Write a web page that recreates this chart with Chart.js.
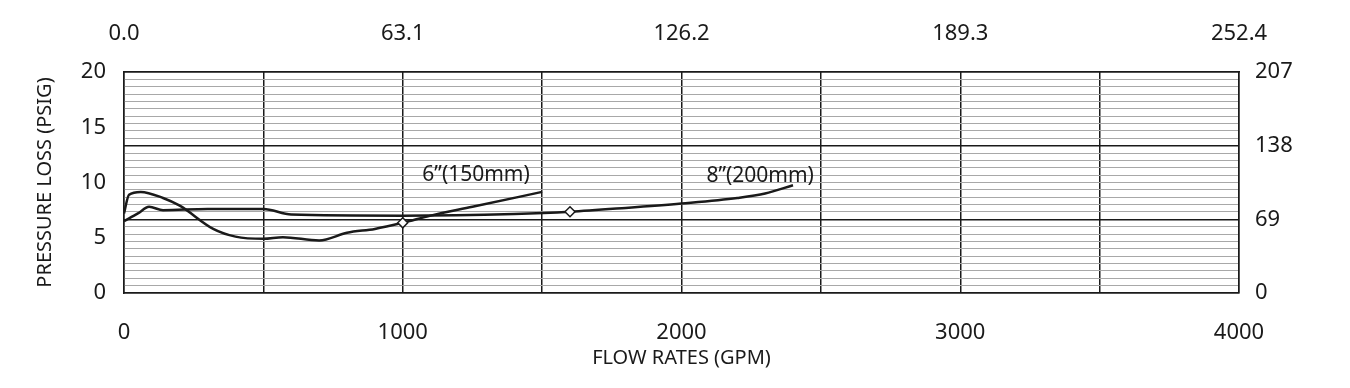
<!DOCTYPE html>
<html lang="en">
<head>
    <meta charset="UTF-8">
    <title>Pressure Loss vs Flow Rate</title>
    <script src="https://cdn.jsdelivr.net/npm/chart.js"></script>
    <style>
        body { margin: 0; background: #fff; }
        #wrap { width: 1350px; height: 388px; position: relative; }
    </style>
</head>
<body>
<div id="wrap"><canvas id="lossChart"></canvas></div>

<script>
    // 6" (150mm) curve
    const flow150 = [0, 18, 60, 140, 200, 320, 400, 500, 570, 700, 800, 900, 1000, 1100, 1250, 1500];
    const loss150 = [7.2, 8.9, 9.15, 8.6, 7.9, 5.8, 5.1, 4.9, 5.05, 4.75, 5.45, 5.8, 6.35, 7.0, 7.8, 9.15];
    // 8" (200mm) curve
    const flow200 = [0, 50, 90, 140, 300, 500, 600, 1000, 1400, 1600, 1800, 2000, 2200, 2300, 2400];
    const loss200 = [6.5, 7.2, 7.8, 7.5, 7.6, 7.6, 7.1, 7.0, 7.15, 7.35, 7.7, 8.1, 8.6, 9.0, 9.75];
    // marked points
    const marker150 = 1000;
    const marker200 = 1600;

    const gpmLabels = ['0', '1000', '2000', '3000', '4000'];
    const lpsLabels = ['0.0', '63.1', '126.2', '189.3', '252.4'];
    const psiTicks = [0, 5, 10, 15, 20];
    const kpaLabels = ['0', '69', '138', '207'];

    const curveLabels = [
        { text: '6\u201D(150mm)', x: 1263, y: 10.7 },
        { text: '8\u201D(200mm)', x: 2282, y: 10.6 }
    ];

    const ink = '#1a1a1a';
    const fontFamily = '"Noto Sans", Lato, sans-serif';

    function toPoints(xs, ys) {
        return xs.map((x, i) => ({ x: x, y: ys[i] }));
    }

    const curveText = {
        id: 'curveText',
        afterDatasetsDraw(chart) {
            const ctx = chart.ctx;
            const xs = chart.scales.x, ys = chart.scales.y;
            ctx.save();
            ctx.font = '21px ' + fontFamily;
            ctx.fillStyle = ink;
            ctx.textAlign = 'center';
            ctx.textBaseline = 'middle';
            curveLabels.forEach(l => {
                ctx.fillText(l.text, xs.getPixelForValue(l.x), ys.getPixelForValue(l.y));
            });
            ctx.restore();
        }
    };

    function markerRadius(markX) {
        return c => (c.raw && c.raw.x === markX ? 5 : 0);
    }

    new Chart(document.getElementById('lossChart').getContext('2d'), {
        type: 'line',
        data: {
            datasets: [
                {
                    label: '6"(150mm)',
                    data: toPoints(flow150, loss150),
                    borderColor: ink,
                    borderWidth: 2.5,
                    tension: 0.35,
                    cubicInterpolationMode: 'monotone',
                    pointStyle: 'rectRot',
                    pointRadius: markerRadius(marker150),
                    pointBackgroundColor: '#fff',
                    pointBorderColor: ink,
                    pointBorderWidth: 1.5,
                    yAxisID: 'y'
                },
                {
                    label: '8"(200mm)',
                    data: toPoints(flow200, loss200),
                    borderColor: ink,
                    borderWidth: 2.5,
                    tension: 0.35,
                    cubicInterpolationMode: 'monotone',
                    pointStyle: 'rectRot',
                    pointRadius: markerRadius(marker200),
                    pointBackgroundColor: '#fff',
                    pointBorderColor: ink,
                    pointBorderWidth: 1.5,
                    yAxisID: 'y'
                }
            ]
        },
        options: {
            responsive: true,
            maintainAspectRatio: false,
            animation: false,
            layout: { padding: 0 },
            plugins: { legend: { display: false }, tooltip: { enabled: false } },
            scales: {
                x: {
                    type: 'linear',
                    position: 'bottom',
                    min: 0, max: 4000,
                    afterBuildTicks: s => { s.ticks = []; for (let v = 0; v <= 4000; v += 500) s.ticks.push({ value: v }); },
                    afterFit: s => { s.height = 95; },
                    ticks: {
                        autoSkip: false,
                        maxRotation: 0,
                        padding: 27,
                        color: ink,
                        font: { family: fontFamily, size: 22 },
                        callback: (v, i) => (i % 2 === 0 ? gpmLabels[i / 2] : '')
                    },
                    grid: { color: ink, lineWidth: 1.5, drawTicks: false },
                    border: { display: true, color: ink, width: 1.5 },
                    title: {
                        display: true,
                        text: 'FLOW RATES (GPM)',
                        color: ink,
                        font: { family: fontFamily, size: 20 },
                        padding: { top: 0, bottom: 18 }
                    }
                },
                x2: {
                    type: 'linear',
                    position: 'top',
                    min: 0, max: 4000,
                    afterBuildTicks: s => { s.ticks = []; for (let v = 0; v <= 4000; v += 1000) s.ticks.push({ value: v }); },
                    afterFit: s => { s.height = 72; },
                    ticks: {
                        autoSkip: false,
                        maxRotation: 0,
                        padding: 25,
                        color: ink,
                        font: { family: fontFamily, size: 22 },
                        callback: (v, i) => lpsLabels[i]
                    },
                    grid: { display: false, drawTicks: false },
                    border: { display: true, color: ink, width: 1.5 }
                },
                y: {
                    type: 'linear',
                    position: 'left',
                    min: 0, max: 20,
                    afterBuildTicks: s => { s.ticks = psiTicks.map(v => ({ value: v })); },
                    afterFit: s => { s.width = 124; },
                    ticks: {
                        padding: 18,
                        color: ink,
                        font: { family: fontFamily, size: 22 }
                    },
                    grid: { display: false, drawTicks: false },
                    border: { display: true, color: ink, width: 1.5 }
                    ,
                    title: {
                        display: true,
                        text: 'PRESSURE LOSS (PSIG)',
                        color: ink,
                        font: { family: fontFamily, size: 20 },
                        padding: { top: 33, bottom: 0 }
                    }
                },
                y2: {
                    type: 'linear',
                    position: 'right',
                    min: 0, max: 207,
                    afterBuildTicks: s => { s.ticks = []; for (let i = 0; i <= 30; i++) s.ticks.push({ value: 207 * i / 30 }); },
                    afterFit: s => { s.width = 111; },
                    ticks: {
                        autoSkip: false,
                        padding: 16,
                        color: ink,
                        font: { family: fontFamily, size: 22 },
                        callback: (v, i) => (i % 10 === 0 ? kpaLabels[i / 10] : '')
                    },
                    grid: {
                        drawTicks: false,
                        color: c => (c.index % 10 === 0 ? ink : '#a8a8a8'),
                        lineWidth: c => (c.index % 10 === 0 ? 1.5 : 1)
                    },
                    border: { display: true, color: ink, width: 1.5 }
                }
            }
        },
        plugins: [curveText]
    });
</script>
</body>
</html>
